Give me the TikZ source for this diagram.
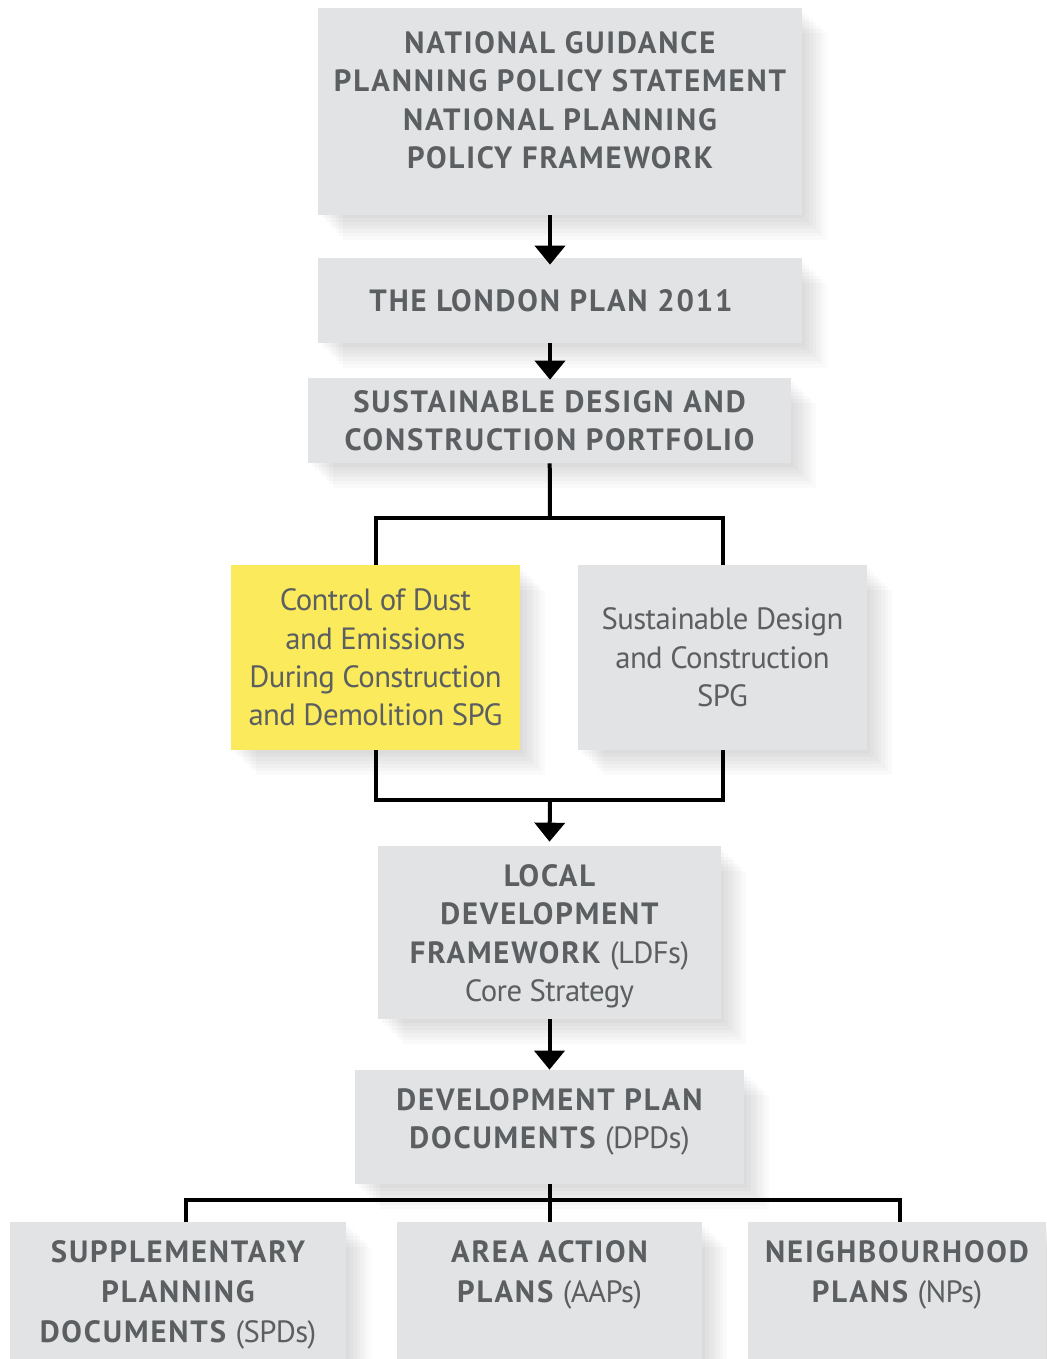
\documentclass[tikz,border=0pt]{standalone}
\usepackage{fontspec}
\setmainfont{PT Sans}[UprightFeatures={LetterSpace=-2},BoldFeatures={LetterSpace=6}]
\usetikzlibrary{arrows.meta,shadows}
\definecolor{boxgray}{HTML}{E1E3E4}
\definecolor{boxyellow}{HTML}{FBEB5C}
\definecolor{txtgray}{HTML}{5C5F61}

\begin{document}
\begin{tikzpicture}[x=0.02cm,y=-0.02cm,
    shade step/.style={general shadow={shadow xshift=#1,shadow yshift=-#1,fill=black,opacity=.018}},
    soft shade/.style={shade step=2pt,shade step=4pt,shade step=6pt,shade step=8pt,
      shade step=10pt,shade step=12pt,shade step=14pt},
    box/.style={fill=boxgray,text=txtgray,align=center,inner sep=0pt,soft shade,
      font=\fontsize{17.5}{21.9}\selectfont},
    lowbox/.style={box,font=\fontsize{17.5}{22.8}\selectfont},
    conn/.style={line width=0.08cm,black},
    arr/.style={conn,-{Triangle[width=0.6cm,length=0.38cm]}}]
   \useasboundingbox[fill=white] (0,0) rectangle (1046,1359);
   % national / regional level
   \node[box,minimum width=9.68cm,minimum height=4.14cm] (nat) at (560,111.5)
      {\bfseries NATIONAL GUIDANCE\\\bfseries PLANNING POLICY STATEMENT\\\bfseries NATIONAL PLANNING\\\bfseries POLICY FRAMEWORK\rule[-13pt]{0pt}{13pt}};
   \node[box,minimum width=9.68cm,minimum height=1.7cm] (london) at (560,300.5)
      {\bfseries THE LONDON PLAN 2011\hspace*{0.36cm}};
   \node[box,minimum width=9.66cm,minimum height=1.7cm] (sdcp) at (549.5,420.5)
      {\bfseries SUSTAINABLE DESIGN AND\\\bfseries CONSTRUCTION PORTFOLIO};
   % guidance
   \node[box,fill=boxyellow,minimum width=5.78cm,minimum height=3.7cm] (dust) at (375.5,657.5)
      {Control of Dust\\and Emissions\\During Construction\\and Demolition SPG};
   \node[box,minimum width=5.78cm,minimum height=3.7cm] (sdspg) at (722.5,657.5)
      {Sustainable Design\\and Construction\\SPG};
   % local level
   \node[box,minimum width=6.86cm,minimum height=3.46cm] (ldf) at (549.5,932.5)
      {\rule{0pt}{17pt}\bfseries LOCAL\\\bfseries DEVELOPMENT\\\textbf{FRAMEWORK} (LDFs)\\Core Strategy};
   \node[box,minimum width=7.78cm,minimum height=2.28cm] (dpd) at (549.5,1127)
      {\bfseries DEVELOPMENT PLAN\\\textbf{DOCUMENTS} (DPDs)\rule[-9.5pt]{0pt}{9.5pt}};
   \node[lowbox,minimum width=6.72cm,minimum height=2.92cm] (spd) at (178,1295)
      {\bfseries SUPPLEMENTARY\\\bfseries PLANNING\\\textbf{DOCUMENTS} (SPDs)};
   \node[lowbox,minimum width=6.1cm,minimum height=2.92cm] (aap) at (549.5,1295)
      {\bfseries AREA ACTION\\\textbf{PLANS} (AAPs)\rule[-27pt]{0pt}{27pt}};
   \node[lowbox,minimum width=5.96cm,minimum height=2.92cm] (np) at (897,1295)
      {\bfseries NEIGHBOURHOOD\\\textbf{PLANS} (NPs)\rule[-27pt]{0pt}{27pt}};
   \coordinate (split1) at (550,518);
   \coordinate (join1) at (550,800);
   \coordinate (split2) at (550,1200);
   % connectors
   \draw[arr] (nat.south -| split1) -- ([yshift=-0.14cm]london.north -| split1);
   \draw[arr] (london.south -| split1) -- ([yshift=-0.04cm]sdcp.north -| split1);
   \draw[conn] (sdcp) -- (split1);
   \draw[conn] (dust.north) |- (split1) -| (sdspg.north);
   \draw[conn] (dust.south) |- (join1) -| (sdspg.south);
   \draw[arr] (join1) -- ([yshift=0.08cm]ldf.north);
   \draw[arr] (ldf) -- (dpd);
   \draw[conn] (dpd) -- (aap);
   \draw[conn] ([xshift=0.16cm]spd.north) |- (split2) -| ([xshift=0.06cm]np.north);
\end{tikzpicture}
\end{document}
